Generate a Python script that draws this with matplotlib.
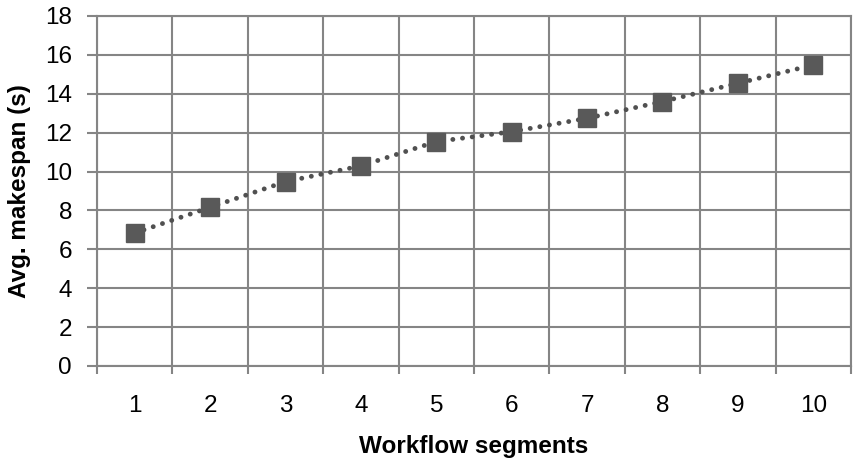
import matplotlib
matplotlib.use("Agg")
import matplotlib.pyplot as plt
import numpy as np

segments = [1, 2, 3, 4, 5, 6, 7, 8, 9, 10]
makespan = [6.84, 8.16, 9.48, 10.29, 11.54, 12.05, 12.74, 13.6, 14.54, 15.48]
y_ticks = [0, 2, 4, 6, 8, 10, 12, 14, 16, 18]

plt.rcParams['font.family'] = ['Liberation Sans', 'DejaVu Sans']

fig = plt.figure(figsize=(8.57, 4.62), dpi=100)
ax = fig.add_axes([97/857, (462-366)/462, (851-97)/857, (366-16)/462])

grid_c = '#858585'
ax.plot(segments, makespan, linestyle=(0, (0.01, 2.0)), dash_capstyle='round',
        color='#505050', linewidth=3.5, marker='s', markersize=12.5,
        markerfacecolor='#595959', markeredgecolor='#595959', zorder=3)

ax.set_xlim(0.5, 10.5)
ax.set_ylim(0, 18)
ax.set_yticks(y_ticks)
ax.set_xticks(segments)
ax.set_xticks(np.arange(0.5, 11, 1), minor=True)
ax.tick_params(axis='x', which='major', length=0, pad=21, labelsize=17.5)
ax.tick_params(axis='x', which='minor', length=6, width=1.5, color=grid_c, direction='out')
ax.tick_params(axis='y', which='major', length=7, width=1.5, color=grid_c, pad=11, labelsize=17.5)
ax.grid(True, axis='y', which='major', color=grid_c, linewidth=1.5)
ax.grid(True, axis='x', which='minor', color=grid_c, linewidth=1.5)
for s in ax.spines.values():
    s.set_color(grid_c)
    s.set_linewidth(1.5)

ax.set_xlabel('Workflow segments', fontsize=17.5, fontweight='bold', labelpad=13)
ax.set_ylabel('Avg. makespan (s)', fontsize=17.5, fontweight='bold', labelpad=10)

fig.savefig('out.png', dpi=100)
